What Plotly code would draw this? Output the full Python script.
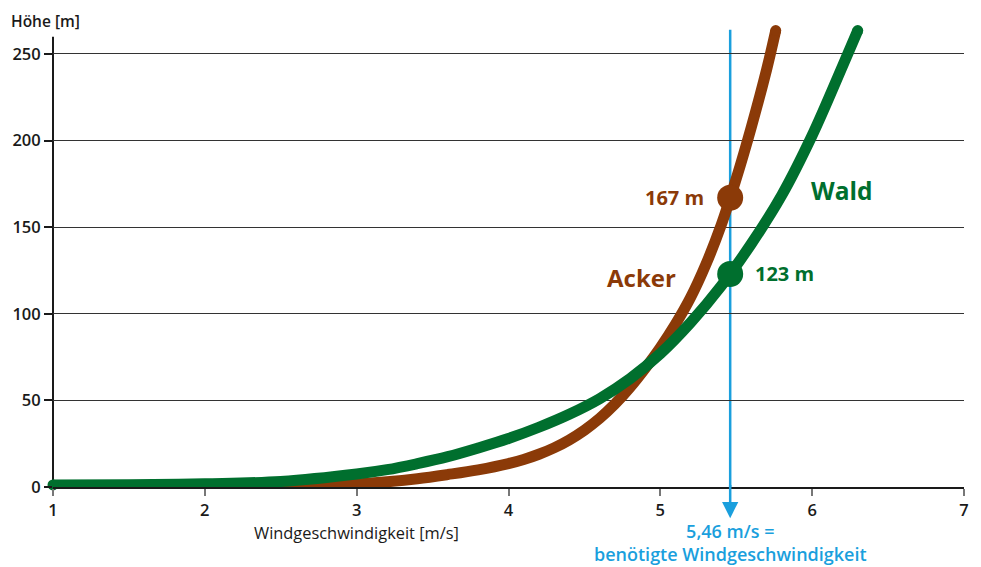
import plotly.graph_objects as go

# Wind profile: height [m] reached at a given wind speed [m/s]
wind_acker = [1.7, 2.0, 2.5, 2.8, 3.0, 3.2, 3.4, 3.6, 3.8, 4.0, 4.1, 4.2, 4.3, 4.4, 4.5, 4.6,
              4.7, 4.8, 4.9, 5.0, 5.1, 5.2, 5.3, 5.4, 5.5, 5.6, 5.7, 5.76]
height_acker = [0.2, 0.3, 0.8, 1.3, 1.8, 3.0, 4.8, 7.2, 9.9, 13.5, 15.9, 18.9, 22.6, 27.2,
                32.8, 39.6, 47.8, 57.5, 68.5, 80.5, 94.0, 109.5, 128.5, 151.0, 178.0,
                208.0, 241.0, 263.5]

wind_wald = [1.0, 1.5, 2.0, 2.5, 3.0, 3.2, 3.4, 3.6, 3.8, 4.0, 4.2, 4.4, 4.6, 4.8, 5.0,
             5.2, 5.4, 5.6, 5.8, 6.0, 6.2, 6.3]
height_wald = [1.2, 1.3, 1.9, 3.2, 7.5, 10.0, 13.5, 17.5, 22.5, 28.0, 34.5, 42.0, 51.0,
               62.5, 77.0, 95.0, 116.0, 140.5, 168.5, 203.0, 243.0, 263.5]

wind_needed = 5.46
height_acker_needed = 167
height_wald_needed = 123

x_ticks = [1, 2, 3, 4, 5, 6, 7]
y_ticks = [0, 50, 100, 150, 200, 250]

BROWN = "#8b3a08"
GREEN = "#006f2e"
BLUE = "#1a9fdd"
INK = "#1a1a1a"
FONT = "Open Sans"

fig = go.Figure()

# curves, with a round cap at the upper end
for xs, ys, col in [(wind_acker, height_acker, BROWN), (wind_wald, height_wald, GREEN)]:
    fig.add_trace(go.Scatter(x=xs, y=ys, mode="lines",
                             line=dict(color=col, width=11, shape="spline"),
                             cliponaxis=False, hoverinfo="skip", showlegend=False))
    fig.add_trace(go.Scatter(x=[xs[-1]], y=[ys[-1]], mode="markers",
                             marker=dict(color=col, size=11, line=dict(width=0)),
                             cliponaxis=False, hoverinfo="skip", showlegend=False))

# round cap at the start of the forest curve
fig.add_trace(go.Scatter(x=[wind_wald[0]], y=[height_wald[0]], mode="markers",
                         marker=dict(color=GREEN, size=11, line=dict(width=0)),
                         cliponaxis=False, hoverinfo="skip", showlegend=False))

# required heights at the needed wind speed
fig.add_trace(go.Scatter(x=[wind_needed, wind_needed],
                         y=[height_acker_needed, height_wald_needed], mode="markers",
                         marker=dict(color=[BROWN, GREEN], size=26, line=dict(width=0)),
                         cliponaxis=False, hoverinfo="skip", showlegend=False))

shapes = [
    # vertical marker of the needed wind speed
    dict(type="line", xref="x", yref="y", x0=wind_needed, x1=wind_needed, y0=0, y1=264,
         line=dict(color=BLUE, width=2.5), layer="below"),
    # y axis line
    dict(type="line", xref="paper", yref="y", x0=0, x1=0, y0=-1, y1=260,
         line=dict(color=INK, width=2), layer="below"),
]

annotations = [
    # arrow head below the axis
    dict(x=wind_needed, y=-18, ax=wind_needed, ay=2, xref="x", yref="y", axref="x", ayref="y",
         showarrow=True, arrowhead=2, arrowsize=1.3, arrowwidth=2.5, arrowcolor=BLUE, text=""),
    dict(x=wind_needed, y=-0.122, xref="x", yref="paper",
         text="5,46 m/s =<br>benötigte Windgeschwindigkeit", showarrow=False,
         xanchor="center", yanchor="middle", align="center",
         font=dict(family=FONT, size=18, color=BLUE, weight=600)),
    dict(x=wind_needed, y=height_acker_needed, xref="x", yref="y",
         text=f"{height_acker_needed} m", showarrow=False, xanchor="right", xshift=-24,
         font=dict(family=FONT, size=20, color=BROWN, weight=700)),
    dict(x=wind_needed, y=height_wald_needed, xref="x", yref="y",
         text=f"{height_wald_needed} m", showarrow=False, xanchor="left", xshift=23,
         font=dict(family=FONT, size=20, color=GREEN, weight=700)),
    dict(x=4.876, y=121, xref="x", yref="y", text="Acker", showarrow=False,
         font=dict(family=FONT, size=24, color=BROWN, weight=700)),
    dict(x=6.19, y=171, xref="x", yref="y", text="Wald", showarrow=False,
         font=dict(family=FONT, size=24.5, color=GREEN, weight=700)),
    # axis titles
    dict(x=3.0, y=-0.1, xref="x", yref="paper", text="Windgeschwindigkeit [m/s]",
         showarrow=False, xanchor="center", yanchor="middle",
         font=dict(family=FONT, size=16.4, color=INK, weight=500)),
    dict(x=-0.041, y=1.016, xref="paper", yref="paper", text="Höhe [m]", showarrow=False,
         xanchor="left", yanchor="middle", xshift=-7,
         font=dict(family=FONT, size=15.5, color=INK, weight=600)),
]

fig.update_layout(
    width=981, height=567,
    margin=dict(l=49, r=14, t=28, b=80),
    paper_bgcolor="white", plot_bgcolor="white",
    showlegend=False,
    shapes=shapes, annotations=annotations,
    xaxis=dict(range=[1, 7], tickvals=x_ticks, showgrid=False, zeroline=False,
               showline=True, linecolor=INK, linewidth=1.5,
               ticks="outside", ticklen=7, tickwidth=1.5, tickcolor="#777",
               tickfont=dict(family=FONT, size=16.5, color=INK, weight=600)),
    yaxis=dict(range=[0, 265], tickvals=y_ticks, showgrid=True, gridcolor="#333",
               gridwidth=1, zeroline=False, showline=False,
               ticks="outside", ticklen=8, tickwidth=1.5, tickcolor=INK,
               tickfont=dict(family=FONT, size=16.5, color=INK, weight=600)),
)

fig.write_html("out.html")
